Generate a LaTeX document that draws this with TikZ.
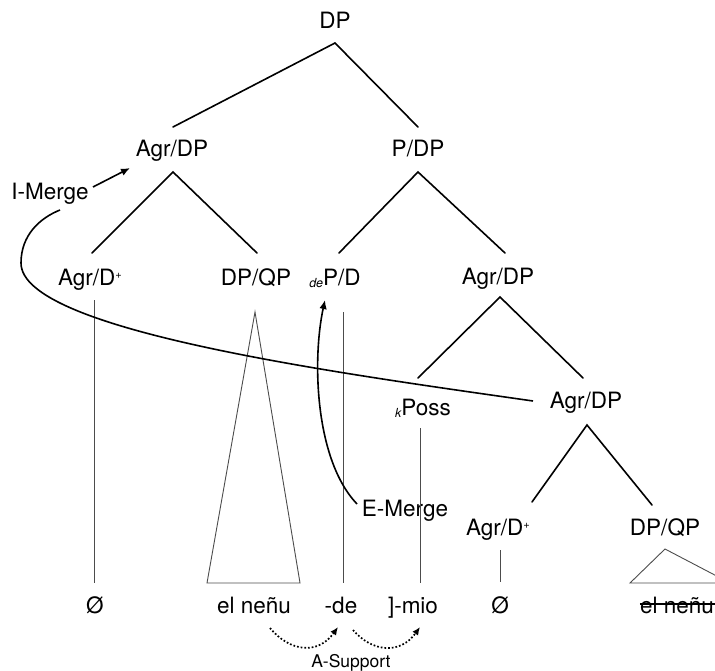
\documentclass[tikz,border=0pt]{standalone}
\usepackage{fontspec}
\setmainfont{TeX Gyre Heros}
\usetikzlibrary{arrows.meta}
\newcommand\mysub[1]{\raisebox{-2pt}{\fontsize{12.5}{12.5}\selectfont\itshape #1}}
\newcommand\mysupplus{\raisebox{6.5pt}{\fontsize{11}{11}\selectfont +}}
\begin{document}
\begin{tikzpicture}[x=1pt,y=-1pt,
  lab/.style={anchor=base, inner sep=0pt, font=\fontsize{22.5}{26}\selectfont},
  branch/.style={line width=1.6pt, line cap=round, line join=miter},
  thinline/.style={line width=0.9pt, draw=black!70},
  move/.style={line width=1.6pt, -{Latex[length=9pt,width=7.5pt]}},
  supp/.style={line width=1.7pt, dotted, -{Latex[length=8pt,width=7pt]}}]
\path[use as bounding box, clip] (0,0) rectangle (715,671);

% labels
\node[lab] (dp) at (335,29) {DP};
\node[lab] (agdp) at (172,157) {Agr/DP};
\node[lab] (pdp) at (418,157) {P/DP};
\node[lab] (agdA) at (90,285) {Agr/D\mysupplus};
\node[lab] (dpqpA) at (256,285) {DP/QP};
\node[lab] (depd) at (335,285) {\mysub{de}P/D};
\node[lab] (agdpB) at (498,284) {Agr/DP};
\node[lab] (kposs) at (423,415) {\mysub{k}Poss};
\node[lab] (agdpC) at (586,408) {Agr/DP};
\node[lab] (emerge) at (405,516) {E-Merge};
\node[lab] (agdB) at (498,535) {Agr/D\mysupplus};
\node[lab] (dpqpB) at (665,535) {DP/QP};
\node[lab] (imerge) at (50,200) {I-Merge};
\node[lab] (nullA) at (95,613) {Ø};
\node[lab] (nenuA) at (254,613) {el neñu};
\node[lab] (de) at (341,613) {-de};
\node[lab] (mio) at (413,613) {]-mio};
\node[lab] (nullB) at (500,613) {Ø};
\node[lab] (nenuB) at (677,613) {el neñu};
\node[lab, font=\fontsize{17.5}{20}\selectfont] (asup) at (351,667) {A-Support};

% branch points
\coordinate (dpb) at (335,43);
\coordinate (agdpt) at (173,127);
\coordinate (pdpt) at (418,127);
\coordinate (agdpb) at (173,172);
\coordinate (agdAt) at (92,253);
\coordinate (dpqpAt) at (257,253);
\coordinate (pdpb) at (418,172);
\coordinate (depdt) at (339,253);
\coordinate (agdpBt) at (505,253);
\coordinate (agdpBb) at (500,297);
\coordinate (kposst) at (418,378);
\coordinate (agdpCt) at (583,378);
\coordinate (agdpCb) at (587,425);
\coordinate (agdBt) at (532,502);
\coordinate (dpqpBt) at (652,505);

\draw[branch] (agdpt) -- (dpb) -- (pdpt);
\draw[branch] (agdAt) -- (agdpb) -- (dpqpAt);
\draw[branch] (depdt) -- (pdpb) -- (agdpBt);
\draw[branch] (kposst) -- (agdpBb) -- (agdpCt);
\draw[branch] (agdBt) -- (agdpCb) -- (dpqpBt);

% thin projection lines and triangles
\draw[thinline] (94,300) -- (94,583);
\draw[thinline] (255,312) -- (207,583) -- (300,583) -- cycle;
\draw[thinline] (343,312) -- (343,583);
\draw[thinline] (420,428) -- (420,583);
\draw[thinline] (500,550) -- (500,582);
\draw[thinline] (665,549) -- (630,583) -- (730,583) -- cycle;

% strike-through
\draw[line width=1.2pt] (nenuB.west |- 0,604) -- (716,604);

% movement
\coordinate (cs) at (533,401);
\coordinate (cl) at (21,263);
\coordinate (ce) at (60,210);
\draw[line width=1.6pt] (cs) .. controls (330,372) and (21,330) .. (cl)
  .. controls (21,235) and (40,218) .. (ce);
\coordinate (ims) at (93,187);
\coordinate (imt) at (130,168);
\draw[move] (ims) -- (imt);
\coordinate (ems) at (357,504);
\coordinate (emt) at (325,300);
\draw[move] (ems) .. controls (315,460) and (312,360) .. (emt);

% A-Support
\coordinate (a1s) at (270,628);
\coordinate (a1t) at (338,627);
\coordinate (a2s) at (353,630);
\coordinate (a2t) at (420,627);
\draw[supp] (a1s) .. controls (290,652) and (318,655) .. (a1t);
\draw[supp] (a2s) .. controls (372,652) and (400,655) .. (a2t);
\end{tikzpicture}
\end{document}
